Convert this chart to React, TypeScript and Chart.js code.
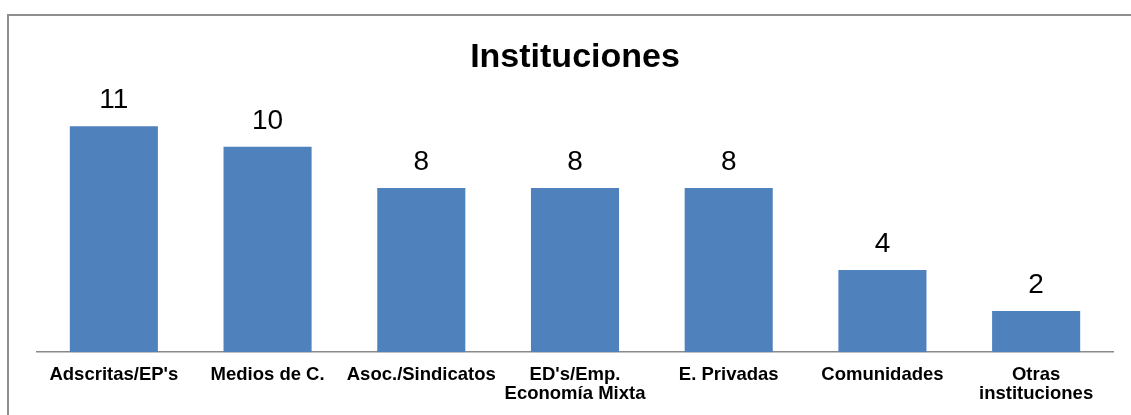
import React, { useEffect, useRef } from "react";
import { Chart, registerables } from "chart.js";

Chart.register(...registerables);

const categories: (string | string[])[] = [
  "Adscritas/EP's",
  "Medios de C.",
  "Asoc./Sindicatos",
  ["ED's/Emp.", "Economía Mixta"],
  "E. Privadas",
  "Comunidades",
  ["Otras", "instituciones"],
];
const values: number[] = [11, 10, 8, 8, 8, 4, 2];
const chartTitle = "Instituciones";
const barColor = "#4F81BD";
const FONT = "'Liberation Sans', Arial, Helvetica, sans-serif";

const dataLabelPlugin = {
  id: "dataLabels",
  afterDatasetsDraw(chart: any) {
    const ctx = chart.ctx;
    const meta = chart.getDatasetMeta(0);
    ctx.save();
    ctx.font = `28px ${FONT}`;
    ctx.fillStyle = "#000";
    ctx.textAlign = "center";
    ctx.textBaseline = "alphabetic";
    meta.data.forEach((bar: any, i: number) => {
      ctx.fillText(String(values[i]), bar.x, bar.y - 18);
    });
    ctx.restore();
  },
};

export default function App() {
  const ref = useRef<HTMLCanvasElement | null>(null);

  useEffect(() => {
    if (!ref.current) return;
    const chart = new Chart(ref.current, {
      type: "bar",
      data: {
        labels: categories,
        datasets: [
          {
            data: values,
            backgroundColor: barColor,
            borderWidth: 0,
            categoryPercentage: 1,
            barPercentage: 0.573,
          },
        ],
      },
      options: {
        responsive: false,
        animation: false,
        devicePixelRatio: 1,
        layout: { padding: { left: 30, right: 29, top: 0, bottom: -2 } },
        plugins: {
          legend: { display: false },
          tooltip: { enabled: false },
          title: {
            display: true,
            text: chartTitle,
            color: "#000",
            font: { family: FONT, size: 34, weight: "bold", lineHeight: 1.2 },
            padding: { top: 37, bottom: 28 },
          },
        },
        scales: {
          x: {
            grid: { display: false, drawTicks: false },
            border: { display: true, color: "#8a8a8a", width: 1.5 },
            ticks: {
              color: "#000",
              padding: 13,
              maxRotation: 0,
              autoSkip: false,
              font: { family: FONT, size: 18.5, weight: "bold", lineHeight: 1.05 },
            },
          },
          y: {
            display: false,
            min: 0,
            max: 12,
          },
        },
      },
      plugins: [dataLabelPlugin],
    });
    return () => chart.destroy();
  }, []);

  return (
    <div
      style={{
        position: "fixed",
        left: 0,
        top: 0,
        width: 1131,
        height: 415,
        overflow: "hidden",
        background: "#fff",
      }}
    >
      <div
        style={{
          position: "absolute",
          left: 7,
          top: 14,
          width: 1140,
          height: 420,
          border: "2px solid #8e8e8e",
          boxSizing: "border-box",
        }}
      />
      <canvas
        ref={ref}
        width={1135}
        height={415}
        style={{ position: "absolute", left: 7, top: 0, width: 1135, height: 415 }}
      />
    </div>
  );
}
